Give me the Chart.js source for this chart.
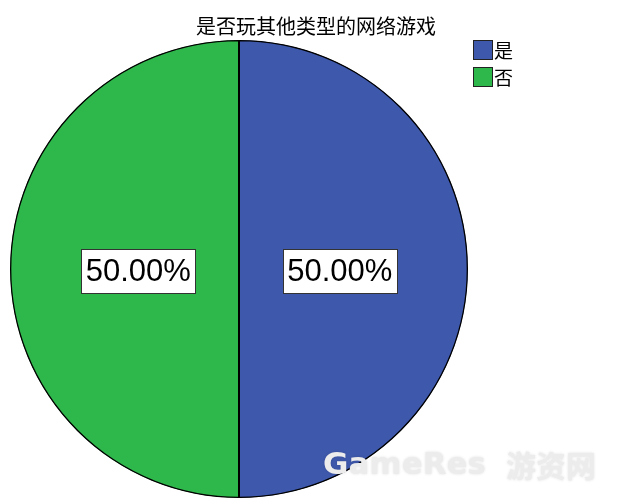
<!DOCTYPE html>
<html>
<head>
<meta charset="utf-8">
<script src="https://cdn.jsdelivr.net/npm/chart.js@4/dist/chart.umd.min.js"></script>
<style>
  html, body { margin: 0; padding: 0; background: #fff; }
  canvas { display: block; }
</style>
</head>
<body>
<canvas id="pie" width="629" height="504"></canvas>
<script>
// Chart data
const categories = ['是', '否'];
const counts = [50, 50];
const sliceColors = ['#3e58ab', '#2eb84b'];
const chartTitle = '是否玩其他类型的网络游戏';

// Draws title, legend, percentage boxes and the watermark
const overlayPlugin = {
  id: 'overlay',
  afterDraw(chart) {
    const ctx = chart.ctx;
    const meta = chart.getDatasetMeta(0);
    const total = counts.reduce((a, b) => a + b, 0);

    ctx.save();

    // Title
    ctx.fillStyle = '#000';
    ctx.font = '20px "Noto Sans CJK SC"';
    ctx.textAlign = 'center';
    ctx.textBaseline = 'middle';
    ctx.fillText(chartTitle, 316, 26);

    // Legend
    ctx.font = '19px "Noto Sans CJK SC"';
    ctx.textAlign = 'left';
    categories.forEach((label, i) => {
      const y = 40 + i * 27;
      ctx.fillStyle = sliceColors[i];
      ctx.fillRect(473.5, y + 0.5, 19, 19);
      ctx.strokeStyle = '#222';
      ctx.lineWidth = 1;
      ctx.strokeRect(473.5, y + 0.5, 19, 19);
      ctx.fillStyle = '#000';
      ctx.fillText(label, 494, y + 11);
    });

    // Percentage boxes
    ctx.font = '31px "Liberation Sans"';
    ctx.textAlign = 'center';
    meta.data.forEach((arc, i) => {
      const p = arc.getProps(['x', 'y', 'startAngle', 'endAngle', 'outerRadius'], true);
      const mid = (p.startAngle + p.endAngle) / 2;
      const r = p.outerRadius * 0.44;
      const cx = p.x + Math.cos(mid) * r;
      const cy = p.y + Math.sin(mid) * r + 2;
      const text = (counts[i] / total * 100).toFixed(2) + '%';
      const w = 114, h = 44;
      ctx.fillStyle = '#fff';
      ctx.fillRect(Math.round(cx - w / 2) + 0.5, Math.round(cy - h / 2) + 0.5, w, h);
      ctx.strokeStyle = '#333';
      ctx.lineWidth = 1;
      ctx.strokeRect(Math.round(cx - w / 2) + 0.5, Math.round(cy - h / 2) + 0.5, w, h);
      ctx.fillStyle = '#000';
      ctx.fillText(text, cx, cy + 1);
    });

    // Watermark
    ctx.font = 'bold 31px "DejaVu Sans"';
    ctx.textAlign = 'left';
    ctx.shadowColor = 'rgba(0,0,0,0.12)';
    ctx.shadowBlur = 3;
    ctx.fillStyle = '#ececec';
    ctx.fillText('GameRes', 323, 466);
    ctx.font = 'bold 30px "Noto Sans CJK SC"';
    ctx.fillText('游资网', 506, 466);
    ctx.restore();
  }
};

new Chart(document.getElementById('pie'), {
  type: 'pie',
  data: {
    labels: categories,
    datasets: [{
      data: counts,
      backgroundColor: sliceColors,
      borderColor: '#000',
      borderWidth: 1,
      borderAlign: 'inner'
    }]
  },
  options: {
    responsive: false,
    animation: false,
    devicePixelRatio: 1,
    layout: {
      padding: { left: 10, right: 161, top: 40, bottom: 6 }
    },
    plugins: {
      legend: { display: false },
      title: { display: false },
      tooltip: { enabled: false }
    }
  },
  plugins: [overlayPlugin]
});
</script>
</body>
</html>
